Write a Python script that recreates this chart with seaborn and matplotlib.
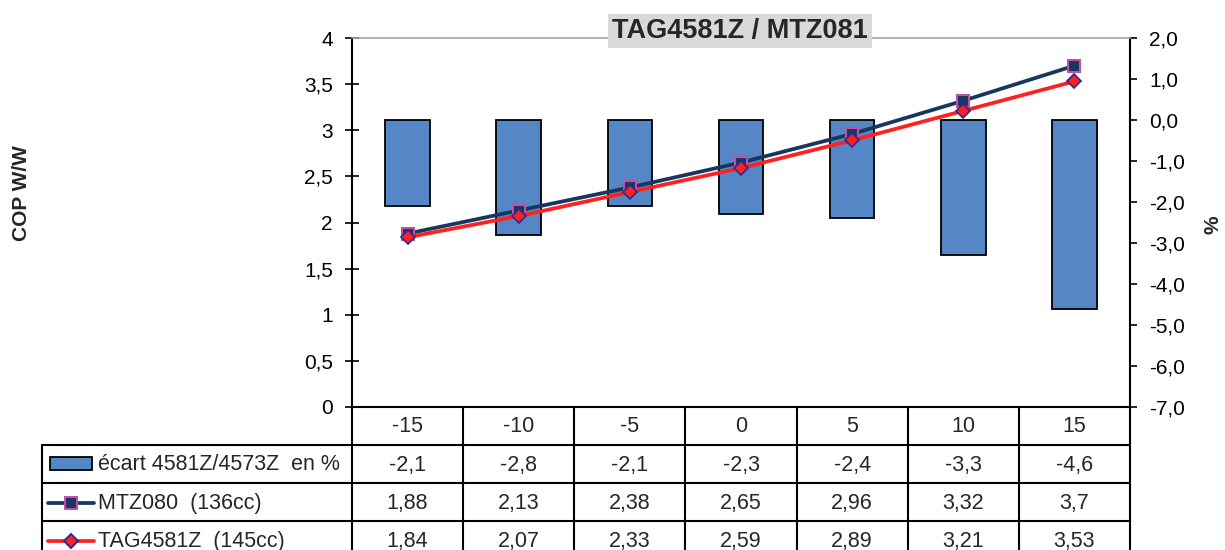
import numpy as np
import seaborn as sns
import matplotlib.pyplot as plt
from matplotlib.patches import Rectangle
from matplotlib.lines import Line2D

# données
temps = [-15, -10, -5, 0, 5, 10, 15]
ecart = [-2.1, -2.8, -2.1, -2.3, -2.4, -3.3, -4.6]
mtz080 = [1.88, 2.13, 2.38, 2.65, 2.96, 3.32, 3.7]
tag4581 = [1.84, 2.07, 2.33, 2.59, 2.89, 3.21, 3.53]
row_labels = ['écart 4581Z/4573Z  en %', 'MTZ080  (136cc)', 'TAG4581Z  (145cc)']
title = 'TAG4581Z / MTZ081'

bar_col = '#5587C6'
navy = '#17375E'
red = '#FF2020'

sns.set_style('white')
plt.rcParams['font.family'] = ['Liberation Sans', 'DejaVu Sans']

W, H = 1225, 550
fig = plt.figure(figsize=(W / 100, H / 100), dpi=100)
x0, x1, y0, y1 = 352, 1130, 38, 407
ax = fig.add_axes([x0 / W, 1 - y1 / H, (x1 - x0) / W, (y1 - y0) / H])
ax2 = ax.twinx()

pos = np.arange(len(temps))

# barres (axe droit)
sns.barplot(x=pos, y=ecart, ax=ax2, width=0.4, color=bar_col, saturation=1,
            edgecolor='black', linewidth=1.3)

# courbes (axe gauche)
sns.lineplot(x=pos, y=mtz080, ax=ax, color=navy, linewidth=2.7, marker='s',
             markersize=8.5, markerfacecolor=navy, markeredgecolor='#C050A8',
             markeredgewidth=1.5)
sns.lineplot(x=pos, y=tag4581, ax=ax, color=red, linewidth=2.7, marker='D',
             markersize=7, markerfacecolor=red, markeredgecolor='#2A2A90',
             markeredgewidth=1.2)

ax.set_zorder(ax2.get_zorder() + 1)
ax.patch.set_visible(False)

ax.set_xlim(-0.5, len(temps) - 0.5)
ax2.set_xlim(-0.5, len(temps) - 0.5)
ax.set_ylim(0, 4)
ax2.set_ylim(-7, 2)

lt = np.arange(0, 4.01, 0.5)
ax.set_yticks(lt)
ax.set_yticklabels([('%g' % v).replace('.', ',') for v in lt])
rt = np.arange(-7, 2.01, 1)
ax2.set_yticks(rt)
ax2.set_yticklabels([('%.1f' % v).replace('.', ',') for v in rt])

for a in (ax, ax2):
    a.tick_params(axis='x', bottom=False, labelbottom=False)
    a.set_xlabel('')
    a.set_ylabel('')
ax.tick_params(axis='y', direction='inout', length=9.5, width=1.2,
               labelsize=15, pad=9, colors='black')
ax2.tick_params(axis='y', direction='out', length=5, width=1.2,
                labelsize=15, pad=9, colors='black', right=True)

ax.spines['left'].set_color('black')
ax.spines['left'].set_linewidth(1.5)
ax.spines['bottom'].set_color('black')
ax.spines['bottom'].set_linewidth(1.5)
ax.spines['top'].set_color('#A6A6A6')
ax.spines['top'].set_linewidth(1.2)
ax.spines['right'].set_visible(False)
for s in ('left', 'top', 'bottom'):
    ax2.spines[s].set_visible(False)
ax2.spines['right'].set_visible(True)
ax2.spines['right'].set_color('black')
ax2.spines['right'].set_linewidth(1.5)

# tableau de données sous le graphique
def axp(xp, yp):
    return (xp - x0) / (x1 - x0), (y1 - yp) / (y1 - y0)

row_h = 38
lw = 1.5
left_px = 42
col_w = (x1 - x0) / len(temps)
fs_tab = 15.5

def hline(yp, xa, xb):
    (ax_a, ay), (ax_b, _) = axp(xa, yp), axp(xb, yp)
    ax.add_line(Line2D([ax_a, ax_b], [ay, ay], transform=ax.transAxes,
                       color='black', lw=lw, clip_on=False))

def vline(xp, ya, yb):
    (xa, ya_), (_, yb_) = axp(xp, ya), axp(xp, yb)
    ax.add_line(Line2D([xa, xa], [ya_, yb_], transform=ax.transAxes,
                       color='black', lw=lw, clip_on=False))

bottom_px = y1 + 4 * row_h
for k in range(len(temps) + 1):
    vline(x0 + k * col_w, y1, bottom_px)
vline(left_px, y1 + row_h, bottom_px)
for r in range(1, 4):
    hline(y1 + r * row_h, left_px, x1)

rows = [[str(t) for t in temps],
        [str(v).replace('.', ',') for v in ecart],
        [str(v).replace('.', ',') for v in mtz080],
        [str(v).replace('.', ',') for v in tag4581]]
for r, vals in enumerate(rows):
    yc = y1 + r * row_h + row_h / 2 + 1
    for k, s in enumerate(vals):
        xa, ya = axp(x0 + (k + 0.5) * col_w, yc)
        ax.text(xa, ya, s, transform=ax.transAxes, ha='center', va='center',
                fontsize=fs_tab, clip_on=False)

# légendes des lignes du tableau
for r, lab in enumerate(row_labels):
    yc = y1 + (r + 1) * row_h + row_h / 2 + 1
    xa, ya = axp(98, yc)
    ax.text(xa, ya, lab, transform=ax.transAxes, ha='left', va='center',
            fontsize=fs_tab, clip_on=False)

(ra, rb) = axp(50, 470)
(rc, rd) = axp(92, 457)
ax.add_patch(Rectangle((ra, rb), rc - ra, rd - rb, transform=ax.transAxes,
                       facecolor=bar_col, edgecolor='black', lw=1.3, clip_on=False))
for r, (col, mk, ms, mfc, mec) in enumerate([(navy, 's', 8.5, navy, '#C050A8'),
                                             (red, 'D', 7, red, '#2A2A90')]):
    yc = y1 + (r + 2) * row_h + row_h / 2 + 1
    (la, ly), (lb, _) = axp(48, yc), axp(94, yc)
    ax.add_line(Line2D([la, lb], [ly, ly], transform=ax.transAxes, color=col,
                       lw=2.7, clip_on=False))
    ax.add_line(Line2D([(la + lb) / 2], [ly], transform=ax.transAxes, color=col,
                       marker=mk, markersize=ms, markerfacecolor=mfc,
                       markeredgecolor=mec, markeredgewidth=1.4, clip_on=False))

# titres
fig.text(740 / W, 1 - 31 / H, title, ha='center', va='center', fontsize=19.5,
         fontweight='bold', bbox=dict(facecolor='#D9D9D9', edgecolor='none', pad=3))
fig.text(22 / W, 1 - 193 / H, 'COP W/W', rotation=90, ha='center', va='center',
         fontsize=15, fontweight='bold')
fig.text(1213 / W, 1 - 225 / H, '%', rotation=90, ha='center', va='center',
         fontsize=15, fontweight='bold')

fig.savefig('out.png', dpi=100)
